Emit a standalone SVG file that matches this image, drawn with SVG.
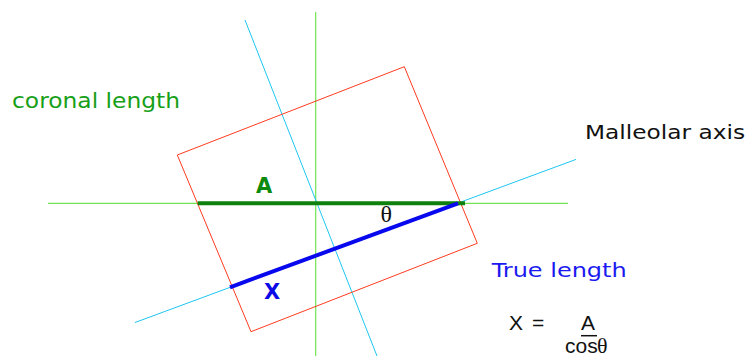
<svg xmlns="http://www.w3.org/2000/svg" width="749" height="356" viewBox="0 0 749 356">
<style>
.sans{font-family:"DejaVu Sans","Verdana",sans-serif;}
.arial{font-family:"Liberation Sans","Arial",sans-serif;}
.serif{font-family:"Liberation Serif","Times New Roman",serif;}
.thin-green{stroke:#70e452;stroke-width:1.2;fill:none;}
.cyan{stroke:#1ec6f2;stroke-width:1;fill:none;}
</style>
<rect width="749" height="356" fill="#ffffff"/>
<g id="connectors">
<line class="thin-green" x1="315.7" y1="12" x2="315.7" y2="356"/>
<line class="thin-green" x1="48" y1="203.3" x2="568" y2="203.3"/>
<line class="cyan" x1="245" y1="20" x2="377" y2="356"/>
<line class="cyan" x1="135" y1="322.5" x2="576" y2="159.4"/>
</g>
<g id="frame">
<polygon points="177.3,155 404.3,66.7 477.3,243.3 251,331.7" fill="none" stroke="#ff3b1f" stroke-width="1"/>
</g>
<g id="segment-A">
<line x1="197.7" y1="203.3" x2="465" y2="203.3" stroke="#0d800d" stroke-width="4"/>
<text class="sans" x="256" y="192.7" font-size="21" font-weight="bold" fill="#0d8a0d">A</text>
</g>
<g id="segment-X">
<line x1="230" y1="287.3" x2="458" y2="203.3" stroke="#0808ee" stroke-width="4"/>
<text class="sans" x="264" y="299.3" font-size="21" font-weight="bold" fill="#0a0ae6">X</text>
</g>
<g id="angle">
<text class="serif" x="380.5" y="221.7" font-size="24" fill="#111">θ</text>
</g>
<g id="label-coronal">
<text class="sans" x="12" y="108.3" font-size="21" fill="#17a017" textLength="168" lengthAdjust="spacingAndGlyphs">coronal length</text>
</g>
<g id="label-malleolar">
<text class="sans" x="585" y="139.3" font-size="19" fill="#111" textLength="160" lengthAdjust="spacingAndGlyphs">Malleolar axis</text>
</g>
<g id="label-true">
<text class="sans" x="491.7" y="276.7" font-size="20" fill="#1a1af0" textLength="135" lengthAdjust="spacingAndGlyphs">True length</text>
</g>
<g id="formula">
<text class="arial" x="509" y="329.5" font-size="21" fill="#111">X</text>
<text class="arial" x="532" y="329.5" font-size="21" fill="#111">=</text>
<text class="arial" x="581" y="329.5" font-size="21" fill="#111">A</text>
<line x1="581" y1="335.7" x2="597" y2="335.7" stroke="#111" stroke-width="1.5"/>
<text class="arial" x="565" y="352.5" font-size="21" fill="#111">cos</text>
<text class="serif" x="597" y="352.5" font-size="22" fill="#111">θ</text>
</g>
</svg>
